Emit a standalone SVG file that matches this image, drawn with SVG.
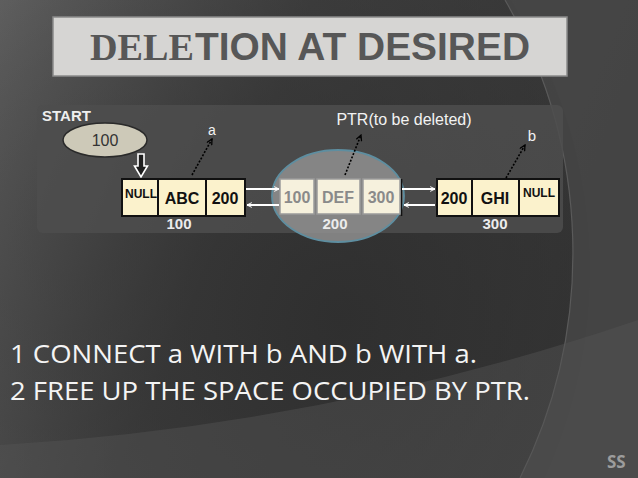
<svg xmlns="http://www.w3.org/2000/svg" width="638" height="478" viewBox="0 0 638 478">
<defs>
<linearGradient id="bg" x1="0" y1="0" x2="1" y2="0.3">
<stop offset="0" stop-color="#6a6a6a"/>
<stop offset="0.45" stop-color="#454545"/>
<stop offset="1" stop-color="#3a3a3a"/>
</linearGradient>
<radialGradient id="dark" cx="0.75" cy="0.55" r="0.6">
<stop offset="0" stop-color="#2c2c2c" stop-opacity="0.85"/>
<stop offset="1" stop-color="#2c2c2c" stop-opacity="0"/>
</radialGradient>
<marker id="wh" viewBox="0 0 10 10" refX="9" refY="5" markerWidth="6" markerHeight="6" orient="auto" markerUnits="userSpaceOnUse">
<path d="M1,1 L9,5 L1,9" fill="none" stroke="#ffffff" stroke-width="1.6"/>
</marker>
<marker id="bk" viewBox="0 0 10 10" refX="9" refY="5" markerWidth="7" markerHeight="7" orient="auto" markerUnits="userSpaceOnUse">
<path d="M1,1 L9,5 L1,9" fill="none" stroke="#000000" stroke-width="1.8"/>
</marker>
</defs>
<style>
.cell{fill:#fbf2cc;stroke:#111;stroke-width:2}
.cellf{fill:#f6f1dd;stroke:#9a9a9a;stroke-width:1.5}
.t{font-family:"Liberation Sans",Arial,sans-serif;font-weight:bold;text-anchor:middle}
.v{font-size:16px;fill:#111}
.vf{font-size:16px;fill:#8a8a8a}
.nul{font-size:12px;fill:#111}
.addr{font-size:15px;fill:#ececec}
.lbl{font-family:"Liberation Sans",Arial,sans-serif;fill:#f2f2f2;text-anchor:middle}
.link{stroke:#ffffff;stroke-width:2;fill:none;marker-end:url(#wh)}
.ptr{stroke:#000;stroke-width:1.6;stroke-dasharray:2,1.6;fill:none;marker-end:url(#bk)}
.body{font-family:"Open Sans","DejaVu Sans",sans-serif;font-size:25px;fill:#f4f4f4}
</style>
<g id="background">
<rect x="0" y="0" width="638" height="478" fill="url(#bg)"/>
<circle cx="90" cy="270" r="500" fill="url(#dark)"/>
<path d="M505,0 A505,505 0 0 1 520,478 L638,478 L638,0 Z" fill="#474747" opacity="0.8"/>
<path d="M505,0 A505,505 0 0 1 520,478" fill="none" stroke="#5a5a5a" stroke-width="1.2"/>
<path d="M0,445 Q330,425 638,320 L638,478 L0,478 Z" fill="#555555" opacity="0.45"/>
</g>
<g id="title">
<rect x="53" y="17" width="514" height="59" fill="#d6d5d3" stroke="#8a8a8a" stroke-width="1.5"/>
<text y="60" font-size="38" font-weight="bold" fill="#575757"><tspan x="90" font-family="Liberation Serif,Times New Roman,serif" textLength="104" lengthAdjust="spacingAndGlyphs">DELE</tspan><tspan x="195" font-family="Liberation Sans,Arial,sans-serif" textLength="335" lengthAdjust="spacingAndGlyphs">TION AT DESIRED</tspan></text>
</g>
<g id="panel">
<rect x="37" y="105" width="526" height="128" rx="6" fill="#4d4d4d" opacity="0.85"/>
</g>
<g id="start">
<text x="42" y="121" font-family="Liberation Sans,Arial,sans-serif" font-weight="bold" font-size="15" fill="#eeeeee">START</text>
<ellipse cx="105" cy="140" rx="42" ry="17" fill="#cdc9b8" stroke="#2a2a2a" stroke-width="1.5"/>
<text x="105" y="146" font-family="Liberation Sans,Arial,sans-serif" font-size="16" fill="#333" text-anchor="middle">100</text>
<path d="M138,154 L144,154 L144,166 L147.5,166 L141,177 L134.5,166 L138,166 Z" fill="#1e1e1e" stroke="#ffffff" stroke-width="1.6"/>
</g>
<g id="node1">
<rect class="cell" x="122" y="179" width="36" height="37"/>
<rect class="cell" x="158" y="179" width="48" height="37"/>
<rect class="cell" x="206" y="179" width="39" height="37"/>
<text class="t nul" x="141" y="198">NULL</text>
<text class="t v" x="182" y="204">ABC</text>
<text class="t v" x="225" y="204">200</text>
<text class="t addr" x="179" y="229">100</text>
</g>
<g id="node2">
<ellipse cx="338" cy="196" rx="66" ry="46" fill="#8f8f8f" fill-opacity="0.85" stroke="#5e8ea0" stroke-width="1.8"/>
<line x1="401.5" y1="179" x2="401.5" y2="216" stroke="#111" stroke-width="1.6"/>
<rect class="cellf" x="280" y="179" width="34" height="35"/>
<rect class="cellf" x="317" y="179" width="43" height="35"/>
<rect class="cellf" x="363" y="179" width="37" height="35"/>
<text class="t vf" x="297" y="203">100</text>
<text class="t vf" x="338" y="203">DEF</text>
<text class="t vf" x="381" y="203">300</text>
<text class="t addr" x="335" y="229">200</text>
</g>
<g id="node3">
<rect class="cell" x="437" y="179" width="35" height="37"/>
<rect class="cell" x="472" y="179" width="47" height="37"/>
<rect class="cell" x="519" y="179" width="40" height="37"/>
<text class="t v" x="454" y="204">200</text>
<text class="t v" x="495" y="204">GHI</text>
<text class="t nul" x="539" y="197">NULL</text>
<text class="t addr" x="495" y="229">300</text>
</g>
<g id="labels">
<text class="lbl" x="212" y="135" font-size="14">a</text>
<text class="lbl" x="404" y="125" font-size="16">PTR(to be deleted)</text>
<text class="lbl" x="532" y="141" font-size="15">b</text>
</g>
<g id="connectors">
<line class="link" x1="246" y1="189" x2="279" y2="189"/>
<line class="link" x1="279" y1="205" x2="247" y2="205"/>
<line class="link" x1="402" y1="189" x2="435" y2="189"/>
<line class="link" x1="435" y1="205" x2="404" y2="205"/>
<line class="ptr" x1="192" y1="175" x2="212" y2="139"/>
<line class="ptr" x1="345" y1="175" x2="361" y2="135"/>
<line class="ptr" x1="506" y1="178" x2="525" y2="145"/>
</g>
<g id="steps">
<text class="body" x="10" y="363" textLength="467" lengthAdjust="spacingAndGlyphs">1 CONNECT a WITH b AND b WITH a.</text>
<text class="body" x="10" y="400" textLength="520" lengthAdjust="spacingAndGlyphs">2 FREE UP THE SPACE OCCUPIED BY PTR.</text>
</g>
<g id="footer">
<text x="607" y="468" font-family="Open Sans,DejaVu Sans,sans-serif" font-weight="bold" font-size="17" fill="#9c9c9c">SS</text>
</g>
</svg>
